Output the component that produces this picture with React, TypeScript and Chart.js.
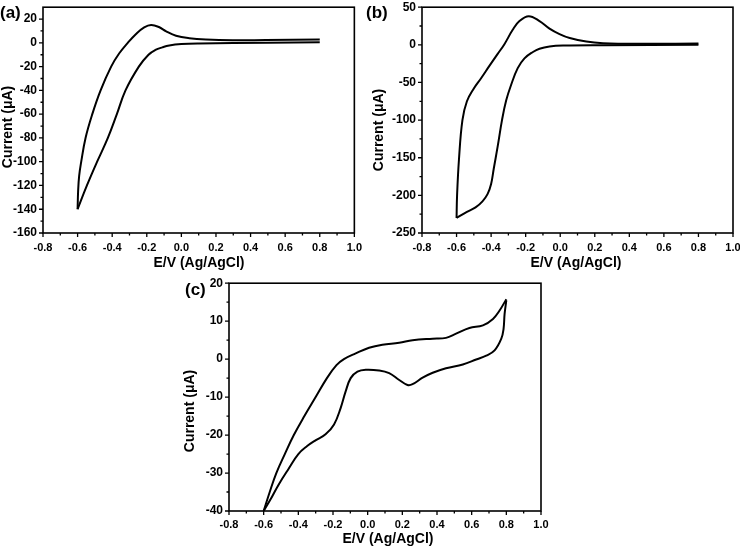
import React, { useEffect, useRef } from "react";
import { Chart, registerables } from "chart.js";

Chart.register(...registerables);

// ---------- shared axis data ----------
const xTicks = [-0.8, -0.6, -0.4, -0.2, 0.0, 0.2, 0.4, 0.6, 0.8, 1.0];
const xMinor = [-0.7, -0.5, -0.3, -0.1, 0.1, 0.3, 0.5, 0.7, 0.9];
const xTitle = "E/V (Ag/AgCl)";
const yTitle = "Current (\u03bcA)";

// ---------- panel (a) ----------
const aYTicks = [20, 0, -20, -40, -60, -80, -100, -120, -140, -160];
const aYMinor = [10, -10, -30, -50, -70, -90, -110, -130, -150];
const aFwdE = [-0.6, -0.597, -0.591, -0.579, -0.554, -0.515, -0.467, -0.406, -0.36, -0.31, -0.262, -0.215, -0.175, -0.13, -0.088, -0.031, 0.046, 0.142, 0.296, 0.488, 0.8];
const aFwdI = [-140, -125, -112, -100, -80, -60, -40, -20, -9, 0, 7.5, 13, 15, 13.3, 9.7, 6, 3.9, 2.8, 2.2, 2.4, 2.8];
const aRevE = [0.8, 0.5, 0.1, 0.0, -0.07, -0.11, -0.15, -0.19, -0.246, -0.323, -0.373, -0.425, -0.487, -0.546, -0.6];
const aRevI = [0.5, 0, -0.5, -1, -2.2, -3.8, -6, -10, -20, -40, -60, -80, -100, -120, -140];

// ---------- panel (b) ----------
const bYTicks = [50, 0, -50, -100, -150, -200, -250];
const bYMinor = [25, -25, -75, -125, -175, -225];
const bFwdE = [-0.6, -0.597, -0.586, -0.566, -0.54, -0.5, -0.46, -0.41, -0.362, -0.323, -0.275, -0.236, -0.182, -0.12, -0.062, -0.004, 0.055, 0.151, 0.248, 0.442, 0.8];
const bFwdI = [-230, -200, -152, -100, -75, -58, -45, -28, -12, 0.9, 20, 31.6, 38, 31.6, 21.6, 14.3, 9, 4.3, 2.2, 1.3, 1.7];
const bRevE = [0.8, 0.248, 0.016, -0.062, -0.12, -0.158, -0.207, -0.246, -0.284, -0.313, -0.337, -0.362, -0.385, -0.4, -0.42, -0.45, -0.49, -0.54, -0.6];
const bRevI = [0, -0.4, -0.9, -2.2, -5.2, -9.5, -18, -31, -53, -74, -100, -135, -165, -185, -198, -208, -216, -222, -230];

// ---------- panel (c) ----------
const cYTicks = [20, 10, 0, -10, -20, -30, -40];
const cYMinor = [15, 5, -5, -15, -25, -35];
const cFwdE = [-0.6, -0.565, -0.527, -0.478, -0.426, -0.365, -0.3, -0.235, -0.18, -0.137, -0.069, 0.008, 0.085, 0.182, 0.259, 0.375, 0.452, 0.51, 0.587, 0.665, 0.723, 0.761, 0.8];
const cFwdI = [-40, -35, -30, -25, -20, -15, -10, -5, -1.6, 0, 1.5, 3, 3.8, 4.3, 5, 5.4, 5.6, 6.7, 8.2, 8.9, 10.6, 12.8, 15.8];
const cRevE = [0.8, 0.79, 0.784, 0.771, 0.732, 0.684, 0.626, 0.549, 0.452, 0.375, 0.317, 0.259, 0.23, 0.182, 0.124, 0.066, -0.011, -0.059, -0.098, -0.127, -0.156, -0.194, -0.243, -0.301, -0.349, -0.4, -0.455, -0.513, -0.561, -0.6];
const cRevI = [15.5, 11.9, 8, 5.4, 2.3, 0.9, -0.1, -1.4, -2.4, -3.6, -4.9, -6.6, -6.8, -5.5, -3.7, -3, -2.8, -3.3, -5, -8.5, -12.9, -17.2, -19.8, -21.4, -22.9, -25, -28.8, -33, -37, -40];

const FONT = '"Liberation Sans", Arial, Helvetica, sans-serif';

const pts = (xs: number[], ys: number[]) => xs.map((x, i) => ({ x, y: ys[i] }));

const framePlugin = {
  id: "frame",
  afterDraw(chart: any, _args: any, opts: any) {
    const { ctx, chartArea } = chart;
    const { left, right, top, bottom } = chartArea;
    const xs = chart.scales.x;
    const ys = chart.scales.y;
    ctx.save();
    ctx.strokeStyle = "#000";
    ctx.lineWidth = 1.6;
    ctx.strokeRect(left, top, right - left, bottom - top);
    ctx.lineWidth = 1.3;
    ctx.beginPath();
    for (const v of opts.xMajor) {
      const p = xs.getPixelForValue(v);
      ctx.moveTo(p, bottom);
      ctx.lineTo(p, bottom + 4);
    }
    for (const v of opts.xMinor) {
      const p = xs.getPixelForValue(v);
      ctx.moveTo(p, bottom);
      ctx.lineTo(p, bottom + 2.5);
    }
    for (const v of opts.yMajor) {
      const p = ys.getPixelForValue(v);
      ctx.moveTo(left, p);
      ctx.lineTo(left - 4, p);
    }
    for (const v of opts.yMinor) {
      const p = ys.getPixelForValue(v);
      ctx.moveTo(left, p);
      ctx.lineTo(left - 2.5, p);
    }
    ctx.stroke();
    ctx.fillStyle = "#000";
    ctx.font = `bold 14px ${FONT}`;
    ctx.textAlign = "center";
    ctx.textBaseline = "middle";
    ctx.fillText(opts.xTitle, opts.xTitlePos[0], opts.xTitlePos[1]);
    ctx.translate(opts.yTitlePos[0], opts.yTitlePos[1]);
    ctx.rotate(-Math.PI / 2);
    ctx.fillText(opts.yTitle, 0, 0);
    ctx.restore();
  },
};

type Panel = {
  left: number;
  top: number;
  width: number;
  height: number;
  padTop: number;
  padRight: number;
  yWidth: number;
  xHeight: number;
  xLabelPad: number;
  yMin: number;
  yMax: number;
  yTicks: number[];
  yMinor: number[];
  curves: { x: number[]; y: number[] }[];
  xTitlePos: [number, number];
  yTitlePos: [number, number];
};

const panels: Panel[] = [
  {
    left: 0, top: -6, width: 370, height: 281, padTop: 10, padRight: 15, yWidth: 43, xHeight: 42, xLabelPad: 8,
    yMin: -160, yMax: 30, yTicks: aYTicks, yMinor: aYMinor,
    curves: [{ x: aFwdE, y: aFwdI }, { x: aRevE, y: aRevI }],
    xTitlePos: [199, 269], yTitlePos: [8, 133],
  },
  {
    left: 365, top: -6, width: 385, height: 281, padTop: 10, padRight: 17, yWidth: 57, xHeight: 42, xLabelPad: 8,
    yMin: -250, yMax: 50, yTicks: bYTicks, yMinor: bYMinor,
    curves: [{ x: bFwdE, y: bFwdI }, { x: bRevE, y: bRevI }],
    xTitlePos: [211, 269], yTitlePos: [14, 136],
  },
  {
    left: 180, top: 270, width: 380, height: 277, padTop: 11, padRight: 19, yWidth: 49, xHeight: 36, xLabelPad: 7,
    yMin: -40, yMax: 20, yTicks: cYTicks, yMinor: cYMinor,
    curves: [{ x: cFwdE, y: cFwdI }, { x: cRevE, y: cRevI }],
    xTitlePos: [208, 269], yTitlePos: [10, 141],
  },
];

function CVPanel({ p }: { p: Panel }) {
  const ref = useRef<HTMLCanvasElement | null>(null);
  useEffect(() => {
    if (!ref.current) return;
    const chart = new Chart(ref.current, {
      type: "scatter",
      data: {
        datasets: p.curves.map((c) => ({
          data: pts(c.x, c.y),
          showLine: true,
          borderColor: "#000",
          borderWidth: 2,
          pointRadius: 0,
          tension: 0.4,
          fill: false,
        })),
      },
      options: {
        animation: false,
        responsive: false,
        devicePixelRatio: 1,
        layout: { padding: { top: p.padTop, right: p.padRight, left: 0, bottom: 0 } },
        plugins: {
          legend: { display: false },
          tooltip: { enabled: false },
          frame: {
            xMajor: xTicks, xMinor, yMajor: p.yTicks, yMinor: p.yMinor,
            xTitle, yTitle, xTitlePos: p.xTitlePos, yTitlePos: p.yTitlePos,
          },
        } as any,
        scales: {
          x: {
            type: "linear",
            min: -0.8,
            max: 1.0,
            grid: { display: false, drawTicks: false },
            border: { display: false },
            afterBuildTicks: (s: any) => { s.ticks = xTicks.map((v) => ({ value: v })); },
            afterFit: (s: any) => { s.height = p.xHeight; },
            ticks: {
              color: "#000",
              padding: p.xLabelPad,
              maxRotation: 0,
              autoSkip: false,
              font: { family: FONT, size: 11, weight: "bold" },
              callback: (v: any) => Number(v).toFixed(1),
            },
          },
          y: {
            type: "linear",
            min: p.yMin,
            max: p.yMax,
            grid: { display: false, drawTicks: false },
            border: { display: false },
            afterBuildTicks: (s: any) => { s.ticks = p.yTicks.map((v) => ({ value: v })); },
            afterFit: (s: any) => { s.width = p.yWidth; },
            ticks: {
              color: "#000",
              padding: 6,
              autoSkip: false,
              font: { family: FONT, size: 12, weight: "bold" },
              callback: (v: any) => String(Math.round(Number(v))),
            },
          },
        },
      } as any,
      plugins: [framePlugin],
    });
    return () => chart.destroy();
  }, [p]);
  return (
    <canvas
      ref={ref}
      width={p.width}
      height={p.height}
      style={{ position: "absolute", left: p.left, top: p.top, width: p.width, height: p.height }}
    />
  );
}

const labelStyle: React.CSSProperties = {
  position: "absolute",
  fontFamily: FONT,
  fontWeight: "bold",
  fontSize: 17,
  lineHeight: "17px",
  color: "#000",
};

export default function App() {
  return (
    <div
      style={{
        position: "absolute",
        left: 0,
        top: 0,
        width: 740,
        height: 547,
        overflow: "hidden",
        background: "#fff",
      }}
    >
      {panels.map((p, i) => (
        <CVPanel key={i} p={p} />
      ))}
      <div style={{ ...labelStyle, left: 0, top: 4 }}>(a)</div>
      <div style={{ ...labelStyle, left: 366, top: 4 }}>(b)</div>
      <div style={{ ...labelStyle, left: 185, top: 281 }}>(c)</div>
    </div>
  );
}
